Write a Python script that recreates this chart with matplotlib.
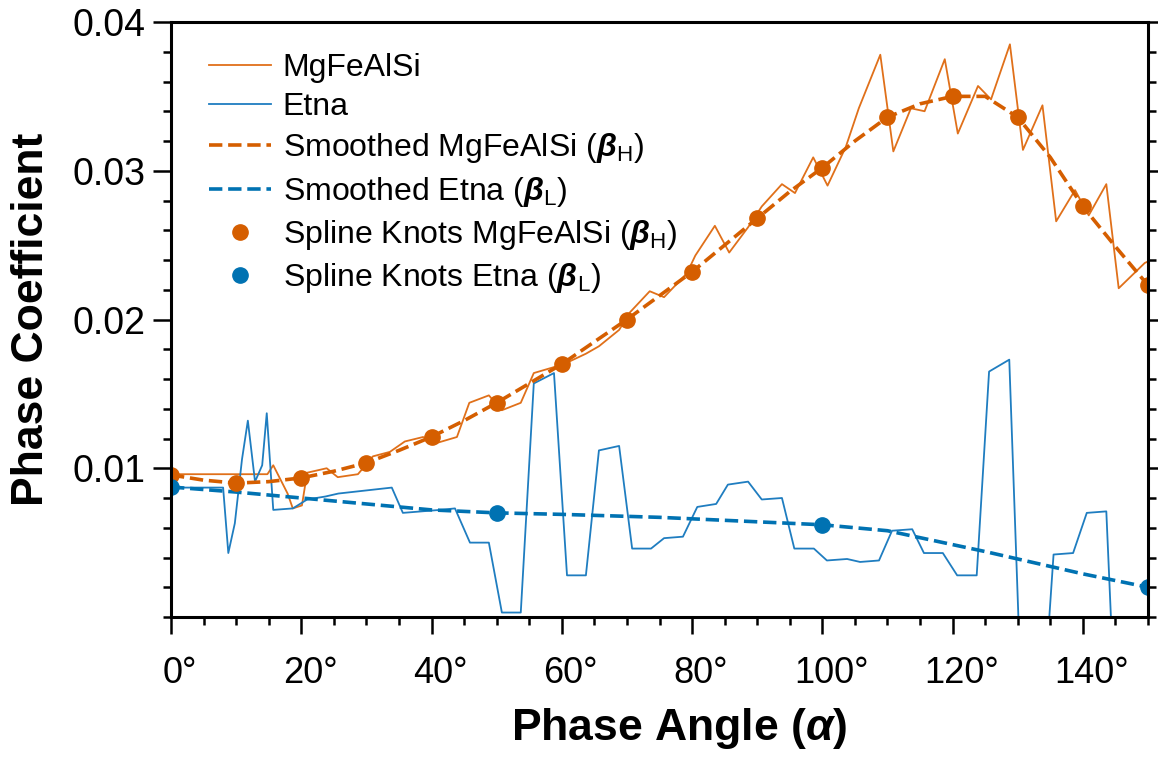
import matplotlib
matplotlib.use("Agg")
import matplotlib.pyplot as plt
import matplotlib.transforms as mtransforms
from matplotlib.ticker import MultipleLocator

# --- Data ---
# raw phase coefficient, MgFeAlSi
mg_angle = [0, 14.8, 15.7, 17.9, 18.7, 20.1, 20.9, 23.9, 25.6, 28.7, 31.0, 33.6, 35.9, 38.7,
            40.8, 43.9, 45.8, 48.8, 50.8, 53.7, 55.7, 58.8, 60.8, 63.7, 65.7, 68.8, 70.5,
            73.5, 75.7, 79.2, 80.5, 83.5, 85.7, 88.6, 90.7, 93.8, 95.8, 98.6, 100.8, 103.6,
            105.6, 108.9, 110.9, 113.6, 115.7, 118.8, 120.8, 123.9, 125.9, 128.8, 130.8,
            133.8, 135.9, 138.8, 140.9, 143.6, 145.5, 149.5, 150]
mg_coef = [0.0096, 0.0096, 0.0102, 0.0083, 0.0073, 0.0075, 0.0097, 0.0100, 0.0094, 0.0096,
           0.0108, 0.0111, 0.0118, 0.0121, 0.0117, 0.0121, 0.0144, 0.0149, 0.0139, 0.0144,
           0.0164, 0.0168, 0.0171, 0.0177, 0.0182, 0.0193, 0.0205, 0.0219, 0.0215, 0.0231,
           0.0243, 0.0263, 0.0245, 0.0262, 0.0276, 0.0291, 0.0285, 0.0309, 0.0290, 0.0316,
           0.0342, 0.0378, 0.0313, 0.0342, 0.0340, 0.0375, 0.0325, 0.0357, 0.0348, 0.0385,
           0.0314, 0.0344, 0.0266, 0.0287, 0.0270, 0.0291, 0.0221, 0.0238, 0.0239]

# raw phase coefficient, Etna
et_angle = [0, 8.0, 8.8, 9.8, 10.9, 11.8, 12.9, 14.0, 14.7, 15.7, 18.7, 20.9, 23.7, 25.7,
            33.9, 35.6, 41.3, 43.6, 45.9, 48.8, 50.8, 53.7, 55.7, 58.8, 60.8, 63.7, 65.7,
            68.8, 70.8, 73.7, 75.7, 78.6, 80.8, 83.7, 85.5, 88.6, 90.7, 93.8, 95.7, 98.7,
            100.7, 103.8, 105.8, 108.7, 110.7, 113.8, 115.6, 118.5, 120.7, 123.7, 125.6,
            128.7, 130.7, 133.7, 135.5, 138.5, 140.6, 143.6, 145.6, 148.6, 150]
et_coef = [0.0087, 0.0087, 0.0043, 0.0063, 0.0106, 0.0132, 0.0091, 0.0102, 0.0137, 0.0072,
           0.0073, 0.0079, 0.0081, 0.0083, 0.0087, 0.0070, 0.0072, 0.0073, 0.0050, 0.0050,
           0.0003, 0.0003, 0.0157, 0.0164, 0.0028, 0.0028, 0.0112, 0.0115, 0.0046, 0.0046,
           0.0053, 0.0054, 0.0074, 0.0076, 0.0089, 0.0091, 0.0079, 0.0080, 0.0046, 0.0046,
           0.0038, 0.0039, 0.0037, 0.0038, 0.0058, 0.0059, 0.0043, 0.0043, 0.0028, 0.0028,
           0.0165, 0.0173, -0.0074, -0.0074, 0.0042, 0.0043, 0.0070, 0.0071, -0.0130,
           -0.0130, -0.0130]

# smoothed curves (read every 5 deg for MgFeAlSi, coarser for Etna)
mg_smooth_angle = [0, 5, 10, 15, 20, 25, 30, 35, 40, 45, 50, 55, 60, 65, 70, 75, 80, 85, 90,
                   95, 100, 105, 110, 115, 120, 125, 130, 135, 140, 145, 150]
mg_smooth = [0.00955, 0.0092, 0.0090, 0.0091, 0.00935, 0.0098, 0.01036, 0.0112, 0.01211,
             0.0132, 0.0144, 0.0157, 0.0170, 0.0185, 0.0200, 0.0216, 0.0232, 0.0250, 0.0268,
             0.0286, 0.0302, 0.0320, 0.0336, 0.0345, 0.0350, 0.0350, 0.0336, 0.0309, 0.0276,
             0.0249, 0.0223]
et_smooth_angle = [0, 10, 25, 40, 50, 60, 75, 90, 100, 110, 125, 140, 150]
et_smooth = [0.00874, 0.0084, 0.0078, 0.0072, 0.0070, 0.0069, 0.0067, 0.0064, 0.0062,
             0.0058, 0.0044, 0.0029, 0.0020]

# spline knots
mg_knot_angle = [0, 10, 20, 30, 40, 50, 60, 70, 80, 90, 100, 110, 120, 130, 140, 150]
mg_knots = [0.00955, 0.0090, 0.00935, 0.01036, 0.01211, 0.0144, 0.0170, 0.0200, 0.0232,
            0.0268, 0.0302, 0.0336, 0.0350, 0.0336, 0.0276, 0.0223]
et_knot_angle = [0, 50, 100, 150]
et_knots = [0.00874, 0.0070, 0.00619, 0.00202]

xticks = [0, 20, 40, 60, 80, 100, 120, 140]
yticks = [0.01, 0.02, 0.03, 0.04]

# --- Style ---
plt.rcParams["font.family"] = ["Liberation Sans", "DejaVu Sans"]
plt.rcParams["mathtext.fontset"] = "custom"
plt.rcParams["mathtext.rm"] = "Liberation Sans"
plt.rcParams["mathtext.it"] = "Liberation Sans:italic"
plt.rcParams["mathtext.bf"] = "Liberation Sans:bold"
plt.rcParams["mathtext.bfit"] = "Liberation Sans:italic:bold"

ORANGE = "#D55E00"
BLUE = "#0072B2"

fig = plt.figure(figsize=(11.58, 7.59), dpi=100)
ax = fig.add_axes([171 / 1158, 1 - 617 / 759, 977 / 1158, 595 / 759])

ax.plot(mg_angle, mg_coef, color="#E0701A", lw=1.3, label="MgFeAlSi")
ax.plot(et_angle, et_coef, color="#1F7DC0", lw=1.3, label="Etna")
ax.plot(mg_smooth_angle, mg_smooth, color=ORANGE, lw=2.6, ls="--",
        label=r"Smoothed MgFeAlSi ($\boldsymbol{\beta}_\mathrm{H}$)")
ax.plot(et_smooth_angle, et_smooth, color=BLUE, lw=2.6, ls="--",
        label=r"Smoothed Etna ($\boldsymbol{\beta}_\mathrm{L}$)")
ax.plot(mg_knot_angle, mg_knots, "o", color=ORANGE, ms=11,
        label=r"Spline Knots MgFeAlSi ($\boldsymbol{\beta}_\mathrm{H}$)")
ax.plot(et_knot_angle, et_knots, "o", color=BLUE, ms=11,
        label=r"Spline Knots Etna ($\boldsymbol{\beta}_\mathrm{L}$)")

ax.set_xlim(0, 150)
ax.set_ylim(0, 0.04)
ax.set_xticks(xticks)
ax.set_xticklabels([f"{t}°" for t in xticks])
ax.xaxis.set_minor_locator(MultipleLocator(5))
ax.set_yticks(yticks)
ax.set_yticklabels([f"{t:.2f}" for t in yticks])
ax.yaxis.set_minor_locator(MultipleLocator(0.002))

for s in ax.spines.values():
    s.set_linewidth(2.2)
ax.tick_params(axis="both", which="both", direction="out", width=1.8, top=False, right=True)
ax.tick_params(axis="x", which="major", length=12, pad=16, labelsize=26)
ax.tick_params(axis="x", which="minor", length=6)
ax.tick_params(axis="y", which="major", length=13, pad=5, labelsize=27)
ax.tick_params(axis="y", which="minor", length=6)

# degree labels: digits sit centred on the tick, the degree sign hangs to the right
shift = mtransforms.ScaledTranslation(9 / 100, 0, fig.dpi_scale_trans)
for lbl in ax.get_xticklabels():
    lbl.set_transform(lbl.get_transform() + shift)

ax.set_xlabel(r"Phase Angle ($\boldsymbol{\alpha}$)", fontsize=32, fontweight="bold")
ax.set_ylabel("Phase Coefficient", fontsize=32, fontweight="bold")
ax.xaxis.set_label_coords(0.52, -0.15)
ax.yaxis.set_label_coords(-0.122, 0.5)

ax.legend(loc="upper left", bbox_to_anchor=(0.039, 0.948), frameon=False, fontsize=23,
          borderaxespad=0, borderpad=0, handlelength=1.95, handletextpad=0.35,
          labelspacing=0.29, numpoints=1)

fig.savefig("out.png", dpi=100, facecolor="white")
